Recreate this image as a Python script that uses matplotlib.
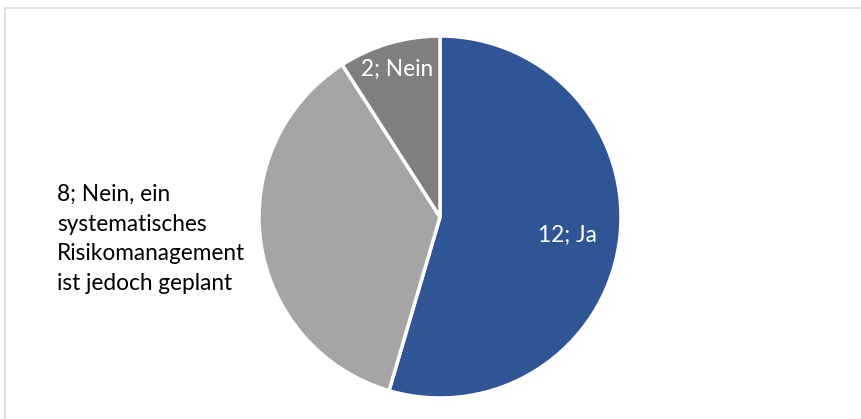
import numpy as np
import matplotlib.pyplot as plt

# Antworten: Gibt es ein systematisches Risikomanagement?
counts = [12, 8, 2]
answers = ['Ja', 'Nein, ein\nsystematisches\nRisikomanagement\nist jedoch geplant', 'Nein']
colors = ['#2F5597', '#A5A5A5', '#7F7F7F']

plt.rcParams['font.family'] = ['Lato', 'DejaVu Sans']

W, H = 861, 419
fig = plt.figure(figsize=(W / 100, H / 100), dpi=100)

# light frame along top and left edge
fig.add_artist(plt.Line2D([5 / W, 1], [1 - 8 / H, 1 - 8 / H], color='#D9D9D9', lw=1.2))
fig.add_artist(plt.Line2D([5 / W, 5 / W], [0, 1 - 8 / H], color='#D9D9D9', lw=1.2))

cx, cy, r = 440, 217, 181
ax = fig.add_axes([(cx - r) / W, (H - cy - r) / H, 2 * r / W, 2 * r / H])
wedges, _ = ax.pie(counts, startangle=90, counterclock=False, colors=colors,
                   radius=1, wedgeprops={'edgecolor': 'white', 'linewidth': 2.5})
ax.set_xlim(-1, 1)
ax.set_ylim(-1, 1)
ax.set_aspect('equal')
ax.axis('off')

label_dist = [0.71, None, 0.85]
for w, n, a, d in zip(wedges, counts, answers, label_dist):
    mid = np.deg2rad((w.theta1 + w.theta2) / 2)
    text = f'{n}; {a}'
    if d is not None:
        ax.text(d * np.cos(mid), d * np.sin(mid), text, ha='center', va='center',
                color='white', fontsize=16.3)
    else:
        # outside label for the big grey wedge
        ax.text(-2.115, 1.55 * np.sin(mid) + 0.1, text, ha='left', va='center',
                color='#000000', fontsize=16.3, linespacing=1.5, clip_on=False)

fig.savefig('out.png', dpi=100)
